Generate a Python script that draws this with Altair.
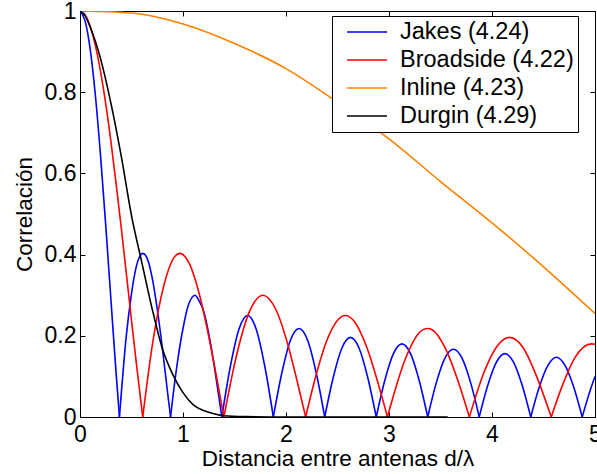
import altair as alt
import pandas as pd

# ---- data ----
series_names = ["Jakes (4.24)", "Broadside (4.22)", "Inline (4.23)", "Durgin (4.29)"]
series_colors = ["#0000ff", "#ff0000", "#ff8000", "#000000"]

jakes_d = [0, 0.05, 0.1, 0.15, 0.2, 0.25, 0.3, 0.35, 0.383,
           0.45, 0.5, 0.55, 0.61, 0.65, 0.7, 0.75, 0.8, 0.85, 0.879,
           0.9, 0.95, 1.0, 1.05, 1.117, 1.15, 1.2, 1.25, 1.3, 1.35, 1.377,
           1.46, 1.544, 1.627, 1.71, 1.794, 1.877,
           1.96, 2.043, 2.127, 2.21, 2.293, 2.376,
           2.459, 2.543, 2.626, 2.709, 2.793, 2.876,
           2.959, 3.043, 3.126, 3.209, 3.293, 3.376,
           3.459, 3.543, 3.626, 3.709, 3.793, 3.876,
           3.959, 4.043, 4.126, 4.209, 4.293, 4.376,
           4.459, 4.543, 4.626, 4.709, 4.793, 4.876,
           4.959, 5.0]
jakes_r = [1.0, 0.975, 0.904, 0.79, 0.642, 0.472, 0.29, 0.11, 0.0,
           0.201, 0.304, 0.374, 0.403, 0.392, 0.344, 0.266, 0.169, 0.061, 0.0,
           0.046, 0.142, 0.218, 0.274, 0.300, 0.289, 0.261, 0.205, 0.131, 0.047, 0.0,
           0.125, 0.217, 0.250, 0.217, 0.125, 0.0,
           0.109, 0.189, 0.218, 0.189, 0.109, 0.0,
           0.098, 0.170, 0.196, 0.170, 0.098, 0.0,
           0.090, 0.156, 0.180, 0.156, 0.090, 0.0,
           0.084, 0.145, 0.167, 0.145, 0.084, 0.0,
           0.078, 0.135, 0.156, 0.135, 0.078, 0.0,
           0.074, 0.127, 0.147, 0.127, 0.074, 0.0,
           0.070, 0.100]

broad_d = [0, 0.05, 0.1, 0.15, 0.2, 0.25, 0.3, 0.35, 0.4, 0.45, 0.5, 0.55, 0.609,
           0.709, 0.81, 0.911, 0.97, 1.063, 1.165, 1.266, 1.342, 1.397,
           1.519, 1.646, 1.776, 1.899, 2.025, 2.101, 2.191,
           2.278, 2.405, 2.575, 2.658, 2.785, 2.911, 2.985,
           3.038, 3.165, 3.291, 3.373, 3.418, 3.544, 3.671, 3.78,
           3.924, 4.051, 4.17, 4.304, 4.43, 4.575,
           4.684, 4.81, 4.966, 5.0]
broad_r = [1.0, 0.990, 0.961, 0.914, 0.850, 0.771, 0.679, 0.576, 0.467, 0.353, 0.238, 0.126, 0.0,
           0.188, 0.320, 0.392, 0.403, 0.377, 0.296, 0.178, 0.076, 0.0,
           0.151, 0.260, 0.300, 0.266, 0.172, 0.096, 0.0,
           0.090, 0.194, 0.250, 0.237, 0.171, 0.068, 0.0,
           0.048, 0.147, 0.207, 0.218, 0.215, 0.171, 0.088, 0.0,
           0.111, 0.175, 0.196, 0.170, 0.102, 0.0,
           0.078, 0.148, 0.180, 0.179]

inline_d = [0, 0.5, 1.0, 1.5, 2.0, 2.5, 3.0, 3.5, 4.0, 4.5, 5.0]
inline_r = [1.0, 0.995, 0.968, 0.92, 0.858, 0.775, 0.685, 0.58, 0.478, 0.37, 0.255]

durgin_d = [0, 0.05, 0.1, 0.2, 0.3, 0.4, 0.5, 0.6, 0.7, 0.8, 0.9, 1.0, 1.1, 1.2, 1.3,
            1.4, 1.6, 2.0, 3.0, 3.57]
durgin_r = [1.0, 0.988, 0.96, 0.882, 0.773, 0.643, 0.496, 0.381, 0.267, 0.168, 0.105,
            0.060, 0.030, 0.016, 0.008, 0.003, 0.001, 0.0, 0.0, 0.0]

x_ticks = [0, 1, 2, 3, 4, 5]
y_ticks = [0, 0.2, 0.4, 0.6, 0.8, 1]

# ---- build table; split oscillating curves into arches at their zeros ----
rows = []
idx = 0
for name, ds, rs in zip(series_names,
                        [jakes_d, broad_d, inline_d, durgin_d],
                        [jakes_r, broad_r, inline_r, durgin_r]):
    seg = 0
    n = len(ds)
    for i, (d, r) in enumerate(zip(ds, rs)):
        rows.append({"series": name, "seg": seg, "d": d, "r": r, "i": idx})
        idx += 1
        if r == 0 and 0 < i < n - 1 and rs[i - 1] > 0 and rs[i + 1] > 0:
            seg += 1
            rows.append({"series": name, "seg": seg, "d": d, "r": r, "i": idx})
            idx += 1
df = pd.DataFrame(rows)

W, H = 515, 406
FONT = "Liberation Sans"

xscale = alt.Scale(domain=[0, 5], nice=False, zero=False)
yscale = alt.Scale(domain=[0, 1], nice=False)

lines = alt.Chart(df).mark_line(interpolate="monotone", strokeWidth=1.6, clip=True).encode(
    x=alt.X("d:Q", scale=xscale,
            axis=alt.Axis(title="Distancia entre antenas d/λ", values=x_ticks, ticks=False,
                          labelPadding=6, titlePadding=1, orient="bottom", format="~g",
                          labelFlush=False, labelOverlap=False)),
    y=alt.Y("r:Q", scale=yscale,
            axis=alt.Axis(title="Correlación", values=y_ticks, ticks=False,
                          labelPadding=4, titlePadding=8, orient="left", format="~g",
                          labelFlush=False, labelOverlap=False)),
    color=alt.Color("series:N",
                    scale=alt.Scale(domain=series_names, range=series_colors),
                    legend=alt.Legend(title=None, orient="none", legendX=252, legendY=5,
                                      symbolType="stroke", symbolSize=1600,
                                      symbolStrokeWidth=1.6, clipHeight=24,
                                      rowPadding=4, padding=4, symbolOffset=10,
                                      labelOffset=12, labelFont=FONT, labelFontSize=23.5,
                                      labelColor="black", strokeColor="black",
                                      fillColor="white", labelLimit=400,
                                      labelExpr="datum.label + '\u2002\u2002'")),
    detail="seg:N",
    order="i:Q",
)

frame = pd.DataFrame({"d": [0, 5], "r": [0, 1]})

def tick_layer(xorient, xoff, yorient, yoff):
    return alt.Chart(frame).mark_point(opacity=0).encode(
        x=alt.X("d:Q", scale=xscale,
                axis=alt.Axis(orient=xorient, offset=xoff, values=x_ticks, labels=False,
                              domain=False, ticks=True, tickSize=5, title=None)),
        y=alt.Y("r:Q", scale=yscale,
                axis=alt.Axis(orient=yorient, offset=yoff, values=y_ticks, labels=False,
                              domain=False, ticks=True, tickSize=5, title=None)),
    )

ticks_bl = tick_layer("top", -H, "right", -W)
ticks_tr = tick_layer("bottom", -H, "left", -W)

chart = alt.layer(ticks_bl, ticks_tr, lines).resolve_axis(
    x="independent", y="independent"
).properties(
    width=W, height=H,
    autosize=alt.AutoSizeParams(type="none"),
    padding={"left": 80, "top": 11, "right": 2, "bottom": 57},
    background="white",
).configure_view(
    stroke="black", strokeWidth=1
).configure_axis(
    labelFont=FONT, labelFontSize=23, labelColor="black",
    titleFont=FONT, titleFontSize=22.5, titleFontWeight="normal", titleColor="black",
    domainColor="black", tickColor="black", grid=False, domainWidth=1, tickWidth=1,
)

chart.save("out.html", embed_options={"renderer": "svg", "actions": False})
